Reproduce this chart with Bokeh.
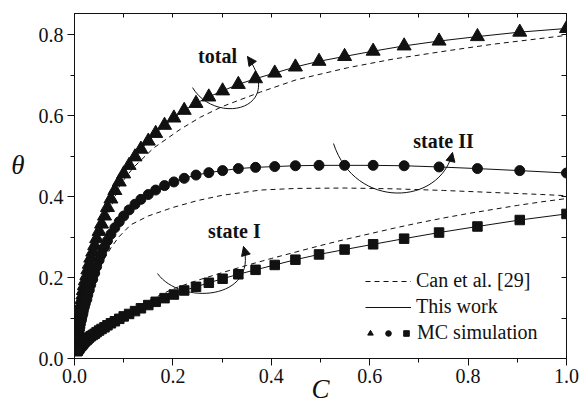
from bokeh.plotting import figure
from bokeh.models import (Range1d, LinearAxis, SingleIntervalTicker, FixedTicker, Legend,
                          LegendItem, Label, Arrow, NormalHead, ColumnDataSource,
                          PrintfTickFormatter)
from bokeh.embed import file_html
from bokeh.resources import INLINE

# ---------------- data ----------------
c_mc = [1.0, 0.905, 0.819, 0.741, 0.670, 0.607, 0.549, 0.497, 0.449, 0.407,
        0.368, 0.333, 0.301, 0.273, 0.247, 0.223, 0.202, 0.183, 0.165, 0.150,
        0.135, 0.123, 0.111, 0.100, 0.091, 0.082, 0.074, 0.067, 0.061, 0.055,
        0.050, 0.045, 0.041, 0.037, 0.033, 0.030, 0.027, 0.025, 0.022, 0.020,
        0.018, 0.017, 0.015, 0.014, 0.012, 0.011, 0.010, 0.009, 0.008, 0.0074,
        0.0067, 0.0061, 0.0055]
theta_I = [0.357, 0.342, 0.326, 0.311, 0.296, 0.282, 0.269, 0.257, 0.244, 0.231,
           0.219, 0.208, 0.197, 0.187, 0.177, 0.168, 0.158, 0.149, 0.140, 0.132,
           0.124, 0.117, 0.110, 0.104, 0.098, 0.092, 0.087, 0.082, 0.077, 0.073,
           0.069, 0.065, 0.061, 0.058, 0.055, 0.052, 0.049, 0.046, 0.043, 0.041,
           0.038, 0.036, 0.034, 0.032, 0.030, 0.028, 0.026, 0.025, 0.023, 0.022,
           0.020, 0.019, 0.018]
theta_II = [0.458, 0.464, 0.469, 0.473, 0.476, 0.477, 0.477, 0.477, 0.476, 0.474,
            0.472, 0.469, 0.464, 0.459, 0.453, 0.445, 0.436, 0.427, 0.416, 0.405,
            0.393, 0.381, 0.367, 0.352, 0.338, 0.323, 0.307, 0.291, 0.275, 0.259,
            0.243, 0.227, 0.211, 0.196, 0.182, 0.169, 0.157, 0.146, 0.136, 0.127,
            0.118, 0.110, 0.102, 0.095, 0.088, 0.082, 0.076, 0.070, 0.065, 0.060,
            0.055, 0.050, 0.046]
theta_total = [0.815, 0.806, 0.795, 0.784, 0.772, 0.759, 0.746, 0.734, 0.720, 0.705,
               0.691, 0.677, 0.661, 0.646, 0.630, 0.613, 0.594, 0.576, 0.556, 0.537,
               0.517, 0.498, 0.477, 0.456, 0.436, 0.415, 0.394, 0.373, 0.352, 0.332,
               0.314, 0.296, 0.279, 0.263, 0.248, 0.233, 0.219, 0.205, 0.192, 0.180,
               0.168, 0.157, 0.146, 0.136, 0.126, 0.117, 0.108, 0.100, 0.092, 0.085,
               0.078, 0.071, 0.065]

can_c_total = [0.07, 0.079, 0.093, 0.12, 0.161, 0.215, 0.256, 0.3, 0.378, 0.45,
               0.555, 0.65, 0.758, 0.85, 1.0]
can_total = [0.36, 0.39, 0.43, 0.472, 0.52, 0.566, 0.596, 0.622, 0.658, 0.688,
             0.718, 0.74, 0.76, 0.776, 0.798]
can_c_II = [0.06, 0.075, 0.09, 0.114, 0.15, 0.2, 0.25, 0.3, 0.378, 0.45, 0.55,
            0.65, 0.75, 0.85, 0.95, 1.0]
can_II = [0.245, 0.275, 0.30, 0.33, 0.352, 0.373, 0.39, 0.403, 0.416, 0.42, 0.421,
          0.419, 0.415, 0.41, 0.405, 0.402]
can_c_I = [0.12, 0.15, 0.2, 0.25, 0.3, 0.35, 0.4, 0.45, 0.5, 0.55, 0.6, 0.65, 0.7,
           0.75, 0.8, 0.85, 0.9, 0.95, 1.0]
can_I = [0.123, 0.142, 0.172, 0.193, 0.212, 0.230, 0.247, 0.263, 0.279, 0.294,
         0.308, 0.322, 0.335, 0.347, 0.358, 0.368, 0.378, 0.387, 0.395]

x_ticks_major = 0.2
y_ticks_major = 0.2
y_title_at = 0.477

SERIF = "Liberation Serif"
INK = "#111111"

p = figure(frame_width=492, frame_height=345,
           min_border_left=74, min_border_right=13, min_border_top=13, min_border_bottom=49,
           x_range=Range1d(0, 1.0), y_range=Range1d(0, 0.852),
           output_backend="svg", toolbar_location=None,
           background_fill_color="white", border_fill_color="white")
p.grid.visible = False
p.outline_line_color = INK
p.outline_line_width = 1

for ax, iv in ((p.xaxis[0], x_ticks_major), (p.yaxis[0], y_ticks_major)):
    ax.ticker = SingleIntervalTicker(interval=iv, num_minor_ticks=2)
    ax.formatter = PrintfTickFormatter(format="%.1f")
    ax.major_tick_out = 7
    ax.major_tick_in = 0
    ax.minor_tick_out = 4
    ax.minor_tick_in = 0
    ax.axis_line_color = INK
    ax.major_tick_line_color = INK
    ax.minor_tick_line_color = INK
    ax.major_label_text_font = SERIF
    ax.major_label_text_font_size = "20px"
    ax.major_label_text_color = INK
p.xaxis[0].major_label_standoff = 3
p.yaxis[0].major_label_standoff = 4

# x title as the bottom axis label
xa = p.xaxis[0]
xa.axis_label = "C"
xa.axis_label_text_font = SERIF
xa.axis_label_text_font_style = "italic"
xa.axis_label_text_font_size = "27px"
xa.axis_label_text_color = INK
xa.axis_label_standoff = -12

# y title: an extra left axis whose single label is the upright θ
ytitle = LinearAxis(ticker=FixedTicker(ticks=[y_title_at]),
                    major_label_overrides={y_title_at: "θ"},
                    major_tick_in=0, major_tick_out=0, minor_tick_in=0, minor_tick_out=0,
                    axis_line_color=None, major_tick_line_color=None,
                    minor_tick_line_color=None, major_label_standoff=11,
                    major_label_text_font=SERIF, major_label_text_font_style="italic",
                    major_label_text_font_size="27px", major_label_text_color=INK)
p.add_layout(ytitle, "left")

top = LinearAxis(ticker=SingleIntervalTicker(interval=0.1, num_minor_ticks=0),
                 major_tick_in=4, major_tick_out=0, minor_tick_in=0, minor_tick_out=0,
                 major_label_text_color=None, major_label_text_font_size="1px",
                 major_label_standoff=0,
                 axis_line_color=INK, major_tick_line_color=INK)
right = LinearAxis(ticker=SingleIntervalTicker(interval=0.1, num_minor_ticks=0),
                   major_tick_in=5, major_tick_out=0, minor_tick_in=0, minor_tick_out=0,
                   major_label_text_color=None, major_label_text_font_size="1px",
                   major_label_standoff=0,
                   axis_line_color=INK, major_tick_line_color=INK)
p.add_layout(top, "above")
p.add_layout(right, "right")

# Can et al. dashed curves
d1 = p.line(can_c_total, can_total, line_color=INK, line_width=1, line_dash="5 4")
p.line(can_c_II, can_II, line_color=INK, line_width=1, line_dash="5 4")
p.line(can_c_I, can_I, line_color=INK, line_width=1, line_dash="5 4")

# This work solid curves
s1 = p.line(c_mc, theta_total, line_color=INK, line_width=1)
p.line(c_mc, theta_II, line_color=INK, line_width=1)
p.line(c_mc, theta_I, line_color=INK, line_width=1)

# MC simulation markers
m_tri = p.scatter(c_mc, theta_total, marker="triangle", size=14, fill_color=INK, line_color=INK)
m_cir = p.scatter(c_mc, theta_II, marker="circle", size=10, fill_color=INK, line_color=INK)
m_sq = p.scatter(c_mc, theta_I, marker="square", size=9.5, fill_color=INK, line_color=INK)

# curved arrows (cubic Bezier) with heads
arcs = dict(
    x0=[0.2398, 0.5264, 0.1687], y0=[0.6691, 0.5309, 0.2099],
    cx0=[0.2866, 0.5711, 0.2154], cy0=[0.5753, 0.3654, 0.1309],
    cx1=[0.4289, 0.7439, 0.3740], cy1=[0.6123, 0.3778, 0.1432],
    x1=[0.3516, 0.7683, 0.3435], y1=[0.7457, 0.5086, 0.2765])
p.bezier(x0="x0", y0="y0", x1="x1", y1="y1", cx0="cx0", cy0="cy0", cx1="cx1", cy1="cy1",
         source=ColumnDataSource(arcs), line_color=INK, line_width=1)
for i in range(3):
    p.add_layout(Arrow(end=NormalHead(size=9, fill_color=INK, line_color=INK, line_width=1),
                       x_start=arcs["cx1"][i], y_start=arcs["cy1"][i],
                       x_end=arcs["x1"][i], y_end=arcs["y1"][i], line_alpha=0))

for txt, x, y in (("total", 0.2907, 0.748), ("state II", 0.75, 0.538), ("state I", 0.325, 0.316)):
    p.add_layout(Label(x=x, y=y, text=txt, text_font=SERIF, text_font_size="20px",
                       text_font_style="bold", text_align="center", text_baseline="middle",
                       text_color=INK))

# legends
legA = Legend(items=[LegendItem(label="Can et al. [29]", renderers=[d1]),
                     LegendItem(label="This work", renderers=[s1])],
              location=(291, 40), orientation="vertical")
legB = Legend(items=[LegendItem(label="", renderers=[m_tri]),
                     LegendItem(label="", renderers=[m_cir]),
                     LegendItem(label="MC simulation", renderers=[m_sq])],
              location=(289, 14), orientation="horizontal")
for lg, gw in ((legA, 46), (legB, 14)):
    lg.glyph_width = gw
    lg.glyph_height = 22
    lg.label_height = 22
    lg.label_standoff = 5
    lg.spacing = 3
    lg.padding = 0
    lg.margin = 0
    lg.border_line_alpha = 0
    lg.background_fill_alpha = 0
    lg.label_text_font = SERIF
    lg.label_text_font_size = "20px"
    lg.label_text_color = INK
legB.spacing = 0
legB.label_width = 0
legB.label_standoff = 4
p.add_layout(legA)
p.add_layout(legB)

open("out.html", "w").write(file_html(p, INLINE))
